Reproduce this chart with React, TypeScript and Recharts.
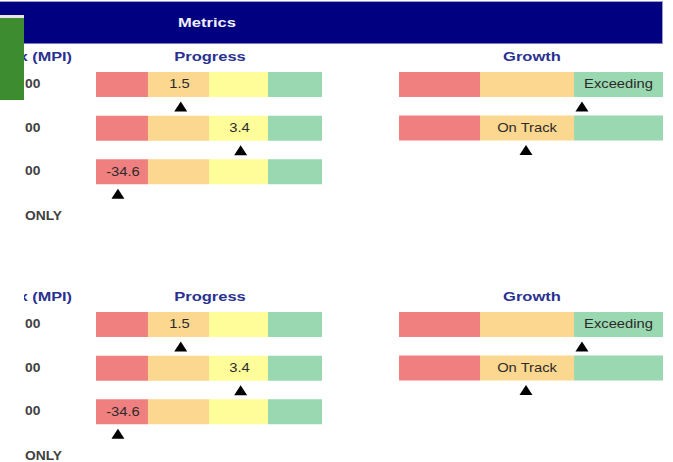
import React from 'react';
import { ComposedChart, Bar, XAxis, YAxis, ReferenceDot } from 'recharts';

// ---------- data ----------
const sectionOffsets = [0, 240];

const progressRows = ['row1', 'row2', 'row3'];
const progressBreaks = [0, 23, 50, 76.1, 100]; // gauge position (%) of band edges
const progressValues = ['1.5', '3.4', '-34.6'];
const progressValueBand = [1, 2, 0];
const progressMarkerPos = [37.5, 64.0, 9.7];

const growthRows = ['row1', 'row2'];
const growthBreaks = [0, 30.7, 66.3, 100];
const growthStatus = ['Exceeding', 'On Track'];
const growthStatusBand = [2, 1];
const growthMarkerPos = [69.3, 48.1];

const rowLabels = ['00', '00', '00'];
const footLabel = 'ONLY';
const indexTitle = 'Index (MPI)';
const headerTitle = 'Metrics';
const progressTitle = 'Progress';
const growthTitle = 'Growth';

const progressColors = ['#F08080', '#FCD78F', '#FFFD99', '#99D8B0'];
const growthColors = ['#F08080', '#FCD78F', '#99D8B0'];

const FONT = '"Liberation Sans", Arial, sans-serif';

// ---------- helpers ----------
function buildRows(rows: string[], breaks: number[]) {
  return rows.map((row) => {
    const o: Record<string, any> = { row };
    for (let i = 0; i < breaks.length - 1; i++) o['b' + i] = breaks[i + 1] - breaks[i];
    return o;
  });
}
const bandCenter = (breaks: number[], i: number) => (breaks[i] + breaks[i + 1]) / 2;

function ValueLabel(props: any) {
  const { cx, cy, text, dx = 0 } = props;
  if (cx == null || cy == null) return null;
  return (
    <text
      x={0}
      y={0}
      dy="0.35em"
      transform={`translate(${cx + dx},${cy - 1}) scale(1.18,1)`}
      textAnchor="middle"
      fontFamily={FONT}
      fontSize={12.5}
      fill="#2b2b2b"
    >
      {text}
    </text>
  );
}

function Tri(props: any) {
  const { cx, cy } = props;
  if (cx == null || cy == null) return null;
  return (
    <path
      d={`M${cx},${cy + 16.7} L${cx + 6.5},${cy + 26.7} L${cx - 6.5},${cy + 26.7} Z`}
      fill="#000"
    />
  );
}

function Txt(props: any) {
  const { x, y, text, anchor = 'middle', size = 13, bold = false, color = '#000', sx = 1.2 } = props;
  const lh = 20;
  const origin = anchor === 'middle' ? 'center' : anchor === 'end' ? 'right' : 'left';
  const tx = anchor === 'middle' ? 'translateX(-50%) ' : anchor === 'end' ? 'translateX(-100%) ' : '';
  return (
    <div
      style={{
        position: 'absolute',
        left: x,
        top: y - lh / 2,
        height: lh,
        lineHeight: `${lh}px`,
        fontSize: size,
        fontWeight: bold ? 700 : 400,
        color,
        fontFamily: FONT,
        whiteSpace: 'nowrap',
        transform: `${tx}scaleX(${sx})`,
        transformOrigin: `${origin} center`,
      }}
    >
      {text}
    </div>
  );
}

function ProgressGauge({ top }: { top: number }) {
  const data = buildRows(progressRows, progressBreaks);
  return (
    <div style={{ position: 'absolute', left: 86, top }}>
      <ComposedChart
        layout="vertical"
        width={246}
        height={151}
        data={data}
        margin={{ top: 0, right: 10, bottom: 20, left: 10 }}
      >
        <XAxis type="number" domain={[0, 100]} hide />
        <YAxis type="category" dataKey="row" hide />
        {progressColors.map((c, i) => (
          <Bar key={i} dataKey={'b' + i} stackId="g" fill={c} barSize={25} isAnimationActive={false} />
        ))}
        {progressRows.map((r, i) => (
          <ReferenceDot
            key={'l' + i}
            x={bandCenter(progressBreaks, progressValueBand[i])}
            y={r}
            ifOverflow="visible"
            shape={(p: any) => <ValueLabel {...p} dx={1} text={progressValues[i]} />}
          />
        ))}
        {progressRows.map((r, i) => (
          <ReferenceDot
            key={'m' + i}
            x={progressMarkerPos[i]}
            y={r}
            ifOverflow="visible"
            shape={(p: any) => <Tri {...p} />}
          />
        ))}
      </ComposedChart>
    </div>
  );
}

function GrowthGauge({ top }: { top: number }) {
  const data = buildRows(growthRows, growthBreaks);
  return (
    <div style={{ position: 'absolute', left: 389, top }}>
      <ComposedChart
        layout="vertical"
        width={284}
        height={107}
        data={data}
        margin={{ top: 0, right: 10, bottom: 20, left: 10 }}
      >
        <XAxis type="number" domain={[0, 100]} hide />
        <YAxis type="category" dataKey="row" hide />
        {growthColors.map((c, i) => (
          <Bar key={i} dataKey={'b' + i} stackId="g" fill={c} barSize={25} isAnimationActive={false} />
        ))}
        {growthRows.map((r, i) => (
          <ReferenceDot
            key={'l' + i}
            x={bandCenter(growthBreaks, growthStatusBand[i])}
            y={r}
            ifOverflow="visible"
            shape={(p: any) => <ValueLabel {...p} text={growthStatus[i]} />}
          />
        ))}
        {growthRows.map((r, i) => (
          <ReferenceDot
            key={'m' + i}
            x={growthMarkerPos[i]}
            y={r}
            ifOverflow="visible"
            shape={(p: any) => <Tri {...p} />}
          />
        ))}
      </ComposedChart>
    </div>
  );
}

function Section({ off }: { off: number }) {
  return (
    <>
      <div style={{ position: 'absolute', left: 24, top: off, width: 72, height: 240, overflow: 'hidden' }}>
        <Txt x={48} y={56.5} text={indexTitle} anchor="end" size={13} bold color="#2a3190" sx={1.25} />
        {rowLabels.map((t, i) => (
          <Txt key={i} x={1} y={84.2 + i * 43.3} text={t} anchor="start" size={12} bold color="#404040" sx={1.15} />
        ))}
        <Txt x={1} y={215.7} text={footLabel} anchor="start" size={12} bold color="#404040" sx={1.15} />
      </div>
      <Txt x={209.5} y={56.5 + off} text={progressTitle} size={13} bold color="#2a3190" sx={1.27} />
      <Txt x={532} y={56.5 + off} text={growthTitle} size={13} bold color="#2a3190" sx={1.27} />
      <ProgressGauge top={63 + off} />
      <GrowthGauge top={63 + off} />
    </>
  );
}

export default function App() {
  return (
    <div
      style={{
        position: 'absolute',
        left: 0,
        top: 0,
        width: 673,
        height: 462,
        background: '#fff',
        overflow: 'hidden',
      }}
    >
      {/* header */}
      <div
        style={{
          position: 'absolute',
          left: 0,
          top: 1,
          width: 662,
          height: 41,
          background: '#000080',
          borderTop: '1px solid #9a9ad0',
          borderRight: '1px solid #9a9ad0',
          borderBottom: '1px solid #7a7ac0',
        }}
      />
      <Txt x={207} y={23} text={headerTitle} size={13} bold color="#f0f0ff" sx={1.27} />
      {/* left side block */}
      <div style={{ position: 'absolute', left: 0, top: 15, width: 24, height: 3, background: '#e4e4e4' }} />
      <div style={{ position: 'absolute', left: 0, top: 18, width: 24, height: 82, background: '#3D8C30' }} />
      {sectionOffsets.map((off) => (
        <Section key={off} off={off} />
      ))}
    </div>
  );
}
